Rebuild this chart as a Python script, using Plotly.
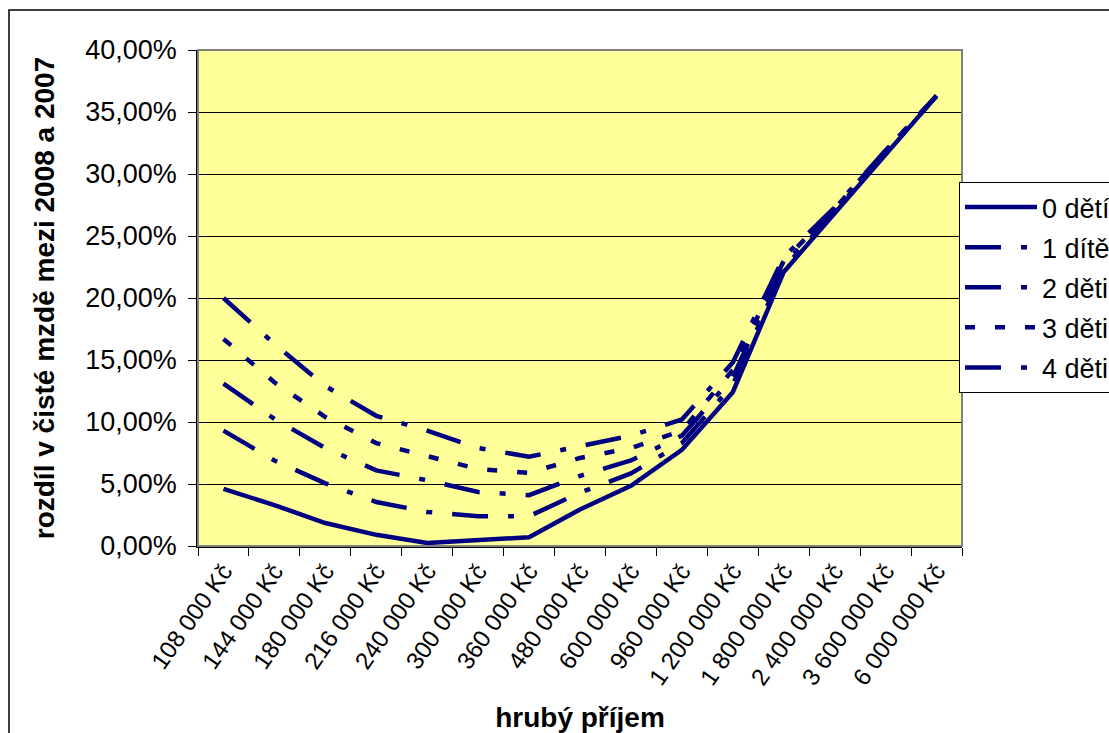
import plotly.graph_objects as go

categories = ["108 000 Kč", "144 000 Kč", "180 000 Kč", "216 000 Kč", "240 000 Kč",
              "300 000 Kč", "360 000 Kč", "480 000 Kč", "600 000 Kč", "960 000 Kč",
              "1 200 000 Kč", "1 800 000 Kč", "2 400 000 Kč", "3 600 000 Kč", "6 000 000 Kč"]

deti_0 = [0.046, 0.033, 0.0185, 0.009, 0.0025, 0.0045, 0.007, 0.0295, 0.0485, 0.0775,
          0.124, 0.221, 0.268, 0.316, 0.363]
deti_1 = [0.093, 0.069, 0.0505, 0.0355, 0.0275, 0.024, 0.024, 0.043, 0.0585, 0.083,
          0.130, 0.224, 0.270, 0.317, 0.363]
deti_2 = [0.131, 0.1025, 0.079, 0.061, 0.053, 0.0435, 0.041, 0.0565, 0.069, 0.089,
          0.136, 0.227, 0.271, 0.318, 0.363]
deti_3 = [0.167, 0.132, 0.104, 0.083, 0.0725, 0.062, 0.059, 0.071, 0.079, 0.093,
          0.142, 0.230, 0.272, 0.319, 0.363]
deti_4 = [0.200, 0.163, 0.129, 0.105, 0.093, 0.079, 0.072, 0.0805, 0.089, 0.102,
          0.148, 0.233, 0.273, 0.319, 0.363]

series_names = ["0 dětí", "1 dítě", "2 děti", "3 děti", "4 děti"]
series_values = [deti_0, deti_1, deti_2, deti_3, deti_4]
dashes = ["solid", "36px,20px,6px,20px", "36px,20px,6px,20px", "10px,20px", "36px,20px,6px,20px"]

NAVY = "#000080"
FONT = "Liberation Sans, Arial, sans-serif"

W, H = 1109, 733
L, R, T, B = 198, 962, 50, 546

fig = go.Figure()
for i, (name, vals, dash) in enumerate(zip(series_names, series_values, dashes)):
    fig.add_trace(go.Scatter(
        x=categories, y=vals, mode="lines", name=name,
        line=dict(color=NAVY, width=4.5, dash=dash),
        legendgroup=f"g{i}",
    ))

def px_x(p):
    return (p - L) / (R - L)

def px_y(p):
    return (B - p) / (B - T)

shapes = [
    dict(type="rect", xref="paper", yref="paper",
         x0=px_x(9), x1=px_x(1130), y0=px_y(760), y1=px_y(10),
         line=dict(color="black", width=1.5), fillcolor="rgba(0,0,0,0)", layer="below"),
    dict(type="rect", xref="paper", yref="paper", x0=0, x1=1, y0=0, y1=1,
         line=dict(color="#808080", width=2), fillcolor="rgba(0,0,0,0)", layer="above"),
]

fig.update_layout(
    width=W, height=H,
    margin=dict(l=L, r=W - R, t=T, b=H - B, autoexpand=False),
    paper_bgcolor="white",
    plot_bgcolor="#FFFF99",
    separators=", ",
    font=dict(family=FONT, color="black", size=25),
    showlegend=True,
    legend=dict(
        x=px_x(959), y=px_y(182), xanchor="left", yanchor="top",
        bgcolor="white", bordercolor="black", borderwidth=1,
        font=dict(family=FONT, size=27, color="black"),
        itemwidth=72, tracegroupgap=2,
    ),
    shapes=shapes,
    xaxis=dict(
        type="category", range=[-0.5, len(categories) - 0.5],
        tickangle=-55, tickson="boundaries",
        ticks="outside", ticklen=8, tickcolor="black", tickwidth=1,
        showline=True, linecolor="black", linewidth=1.5,
        showgrid=False, zeroline=False,
        tickfont=dict(family=FONT, size=24),
        title=dict(text="<b>hrubý příjem</b>", font=dict(family=FONT, size=28), standoff=18),
        automargin=False,
    ),
    yaxis=dict(
        range=[0, 0.40], dtick=0.05, tickformat=".2%",
        ticks="outside", ticklen=8, tickcolor="black", tickwidth=1,
        showline=True, linecolor="black", linewidth=1.5,
        showgrid=True, gridcolor="black", gridwidth=1, zeroline=False,
        tickfont=dict(family=FONT, size=27),
        ticklabelstandoff=6,
        title=dict(text="<b>rozdíl v čisté mzdě mezi 2008 a 2007</b>",
                   font=dict(family=FONT, size=28), standoff=22),
        automargin=False,
    ),
)

fig.write_html("out.html")
